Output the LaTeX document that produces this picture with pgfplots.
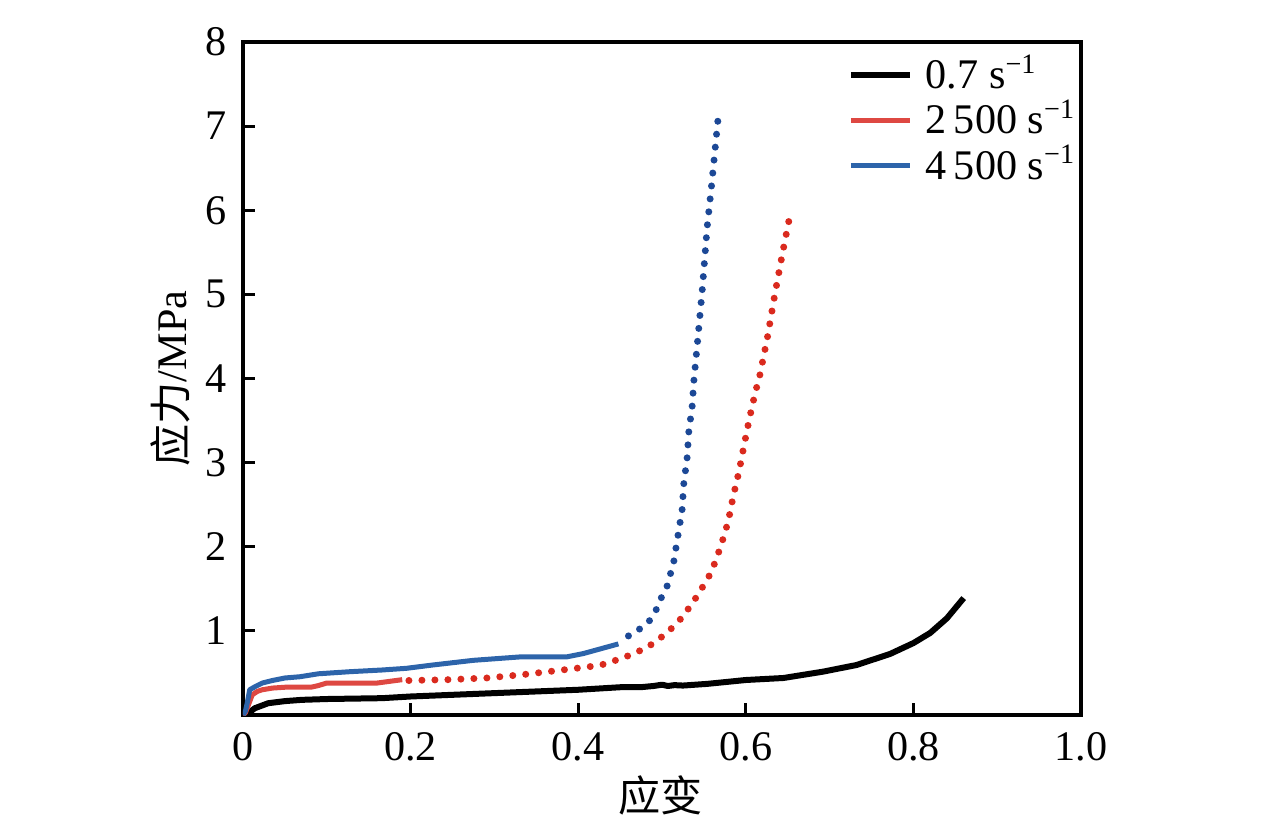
\documentclass[border=0pt]{standalone}
\usepackage{fontspec}
\setmainfont{Liberation Serif}
\newfontfamily\cjk{Noto Sans CJK SC}
\usepackage{pgfplots}
\pgfplotsset{compat=1.18}
\definecolor{redS}{RGB}{222,72,66}
\definecolor{redD}{RGB}{218,42,30}
\definecolor{blueS}{RGB}{45,100,170}
\definecolor{blueD}{RGB}{28,72,150}
\begin{document}
\fontsize{12}{14}\selectfont
\begin{tikzpicture}
\path[use as bounding box] (-24.3mm,-10.2mm) rectangle (103.3mm,71.5mm);
\begin{axis}[
  scale only axis, width=83.8mm, height=67.3mm,
  xmin=0, xmax=1, ymin=0, ymax=8,
  axis line style={line width=0.37mm},
  xtick={0,0.2,0.4,0.6,0.8,1.0},
  xticklabels={\mbox{0},\mbox{0.2},\mbox{0.4},\mbox{0.6},\mbox{0.8},\mbox{1.0}},
  ytick={1,2,3,4,5,6,7,8},
  yticklabels={\mbox{1},\mbox{2},\mbox{3},\mbox{4},\mbox{5},\mbox{6},\mbox{7},\mbox{8}},
  xtick pos=lower, ytick pos=left,
  tick align=inside,
  major tick length=1.2mm,
  tick style={line width=0.3mm, black},
  /pgf/number format/assume math mode=true,
  tick label style={font=\fontsize{12}{14}\selectfont},
  xticklabel style={yshift=-0.3mm},
  yticklabel style={xshift=-0.2mm},
  xlabel={\cjk 应变},
  ylabel={{\cjk 应力}/MPa},
  xlabel style={at={(axis description cs:0.498,-0.119)}, anchor=center, font=\fontsize{12}{14}\selectfont},
  ylabel style={at={(axis description cs:-0.087,0.5)}, anchor=center, rotate=0, font=\fontsize{12}{14}\selectfont},
  legend style={draw=none, fill=none, at={(rel axis cs:0.715,1.0)}, anchor=north west,
    font=\fontsize{12}{14}\selectfont, row sep=-0.9mm, inner sep=0.5mm},
  legend cell align=left,
  legend image code/.code={\draw[#1] (0mm,0mm) -- (5.9mm,0mm); \path (6.5mm,0mm);},
]
\addplot[black, line width=0.6mm, line join=round] coordinates {
(0,0) (0.006,0.02) (0.014,0.08) (0.03,0.14) (0.05,0.165) (0.07,0.18) (0.1,0.19)
(0.166,0.20) (0.2,0.22) (0.3,0.26) (0.4,0.30) (0.45,0.33) (0.474,0.33) (0.49,0.345)
(0.5,0.36) (0.507,0.345) (0.515,0.355) (0.525,0.35) (0.554,0.37) (0.6,0.416) (0.645,0.44)
(0.692,0.515) (0.732,0.594) (0.772,0.725) (0.8,0.855) (0.82,0.975) (0.84,1.15) (0.86,1.39)
};
\addlegendentry{0.7 s\textsuperscript{−1}}
\addplot[redS, line width=0.5mm, line join=round] coordinates {
(0,0) (0.003,0.03) (0.005,0.08) (0.008,0.16) (0.011,0.24) (0.017,0.28) (0.023,0.30)
(0.035,0.32) (0.05,0.33) (0.068,0.33) (0.081,0.33) (0.09,0.35) (0.1,0.38) (0.13,0.38)
(0.16,0.38) (0.175,0.40) (0.19,0.42)
};
\addlegendentry{2\,500 s\textsuperscript{−1}}
\addplot[blueS, line width=0.5mm, line join=round] coordinates {
(0,0) (0.003,0.05) (0.005,0.14) (0.008,0.30) (0.015,0.34) (0.023,0.38) (0.035,0.41)
(0.05,0.44) (0.068,0.455) (0.09,0.49) (0.128,0.515) (0.166,0.535) (0.195,0.555)
(0.227,0.595) (0.275,0.65) (0.330,0.69) (0.386,0.69) (0.406,0.73) (0.448,0.845)
};
\addlegendentry{4\,500 s\textsuperscript{−1}}
\addplot[redD, line width=0.7mm, line cap=round, dash pattern=on 0pt off 1.3mm, forget plot] coordinates {
(0.198,0.41) (0.245,0.42) (0.291,0.44) (0.334,0.48) (0.381,0.535) (0.426,0.59)
(0.454,0.68) (0.482,0.80) (0.506,0.975) (0.525,1.17) (0.543,1.43) (0.559,1.70)
(0.570,2.0) (0.579,2.30) (0.585,2.60) (0.592,2.90) (0.598,3.21) (0.604,3.51)
(0.611,3.82) (0.617,4.05) (0.626,4.5) (0.635,5.02) (0.644,5.5) (0.6535,5.98)
};
\addplot[blueD, line width=0.7mm, line cap=round, dash pattern=on 0pt off 1.3mm, forget plot] coordinates {
(0.460,0.94) (0.473,1.02) (0.485,1.12) (0.493,1.25) (0.499,1.39) (0.506,1.53)
(0.514,1.82) (0.519,2.13) (0.524,2.44) (0.526,2.75) (0.530,3.06) (0.532,3.37)
(0.536,3.67) (0.538,3.97) (0.543,4.5) (0.548,5.05) (0.554,5.81) (0.559,6.28) (0.567,7.1)
};
\end{axis}
\end{tikzpicture}
\end{document}
